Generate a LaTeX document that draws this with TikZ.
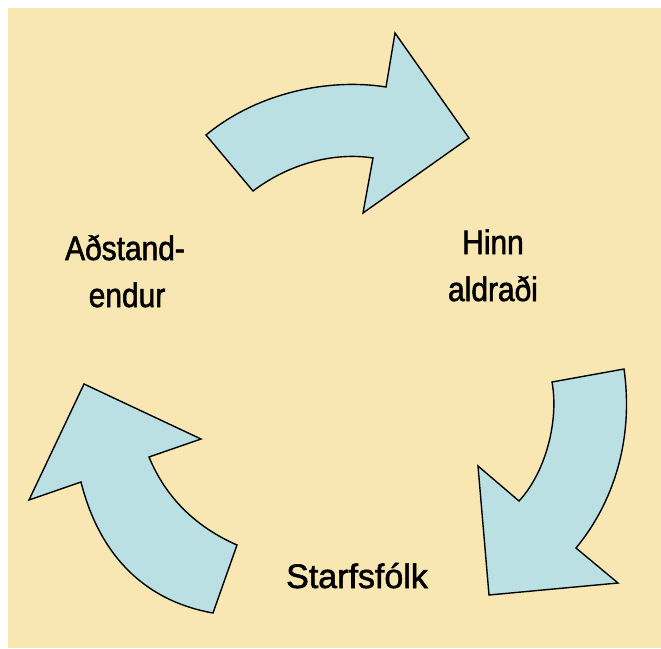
\documentclass[tikz,border=0pt]{standalone}
\usepackage{fontspec}
\setmainfont{Liberation Sans}[FakeStretch=0.88, FakeBold=1.6]
\newfontfamily\plainsans{Liberation Sans}[FakeBold=1.6]
\definecolor{paper}{HTML}{F8E7B3}
\definecolor{arrowfill}{HTML}{BAE0E3}
\tikzset{
  cyclearrow/.style={draw=black, line width=1.4pt, fill=arrowfill, line join=miter},
  label/.style={anchor=base, inner sep=0pt, font=\fontsize{34}{40}\selectfont}
}
\begin{document}
\begin{tikzpicture}[x=1pt, y=-1pt]
  \useasboundingbox (0,0) rectangle (661,648);
  \fill[white] (0,0) rectangle (661,648);
  \fill[paper] (8,8) rectangle (661,648);

  % upper arrow, pointing right
  \draw[cyclearrow] (206,135) .. controls (258,92) and (330,78) .. (386,87)
    -- (395,33) -- (469,138) -- (363,213) -- (373,158)
    .. controls (335,152) and (290,163) .. (253,191) -- cycle;

  % right arrow, pointing down
  \draw[cyclearrow] (624,369) .. controls (633,432) and (618,497) .. (576,548)
    -- (618,583) -- (489,595) -- (478,466) -- (519,501)
    .. controls (546,472) and (559,420) .. (552,382) -- cycle;

  % left arrow, pointing up
  \draw[cyclearrow] (84,384) -- (201,439) -- (149,457)
    .. controls (166,498) and (196,527) .. (237,545) -- (213,613)
    .. controls (140,600) and (98,550) .. (81,482) -- (29,500) -- cycle;

  % labels
  \node[label] (relA) at (125,260) {Aðstand-};
  \node[label] (relB) at (127,307) {endur};
  \node[label] (eldA) at (493,254) {Hinn};
  \node[label] (eldB) at (493,301) {aldraði};
  \node[label, font=\plainsans\fontsize{34}{40}\selectfont] (staff) at (357,588) {Starfsfólk};
\end{tikzpicture}
\end{document}
